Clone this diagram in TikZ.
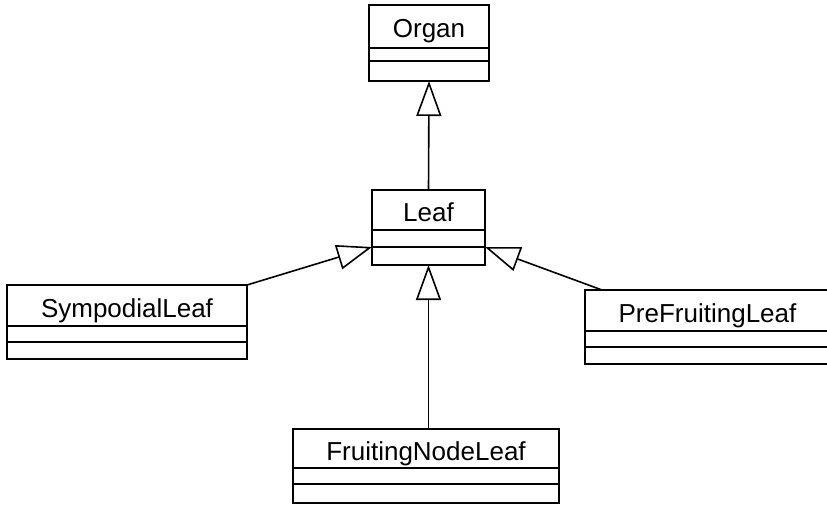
\documentclass[tikz,border=0pt]{standalone}
\usepackage{fontspec}
\setmainfont{Liberation Sans}
\usetikzlibrary{positioning,arrows.meta}

\begin{document}
\begin{tikzpicture}[x=1pt, y=-1pt, line width=1.8pt,
  cname/.style={draw, inner sep=0pt, outer sep=0pt, minimum height=41pt,
    text height=23pt, text depth=0pt, font=\fontsize{26}{30}\selectfont},
  cpart/.style={draw, inner sep=0pt, outer sep=0pt, minimum height=16pt},
  inherit/.style={-{Triangle[open, length=35pt, width=25pt]}, line width=1.6pt}]
\useasboundingbox (0,0) rectangle (827,505);
% classes
\node[cname, minimum width=120pt, minimum height=43pt] (organ) at (429,26.5) {Organ};
\node[cpart, minimum width=120pt, minimum height=13pt, below=0pt of organ] (organa) {};
\node[cpart, minimum width=120pt, minimum height=20pt, below=0pt of organa] (organo) {};
\node[cname, minimum width=113pt, minimum height=40pt] (leaf) at (428.5,210) {Leaf};
\node[cpart, minimum width=113pt, minimum height=17pt, below=0pt of leaf] (leafa) {};
\node[cpart, minimum width=113pt, minimum height=18pt, below=0pt of leafa] (leafo) {};
\node[cname, minimum width=240pt] (symp) at (127,305.5) {SympodialLeaf};
\node[cpart, minimum width=240pt, below=0pt of symp] (sympa) {};
\node[cpart, minimum width=240pt, minimum height=17pt, below=0pt of sympa] (sympo) {};
\node[cname, minimum width=245pt] (pre) at (707.5,310.5) {PreFruitingLeaf};
\node[cpart, minimum width=245pt, below=0pt of pre] (prea) {};
\node[cpart, minimum width=245pt, minimum height=17pt, below=0pt of prea] (preo) {};
\node[cname, minimum width=266pt, minimum height=39pt] (fruit) at (426,448.5) {FruitingNodeLeaf};
\node[cpart, minimum width=266pt, below=0pt of fruit] (fruita) {};
\node[cpart, minimum width=266pt, minimum height=19pt, below=0pt of fruita] (fruito) {};
% generalisations
\draw[inherit] (leaf.north) -- (organo.south);
\draw[inherit] (symp.north east) -- (leafa.south west);
\draw[inherit] ([xshift=17pt]pre.north west) -- (leafa.south east);
\draw[inherit] (fruit.north -| leafo.south) -- (leafo.south);
\end{tikzpicture}
\end{document}
